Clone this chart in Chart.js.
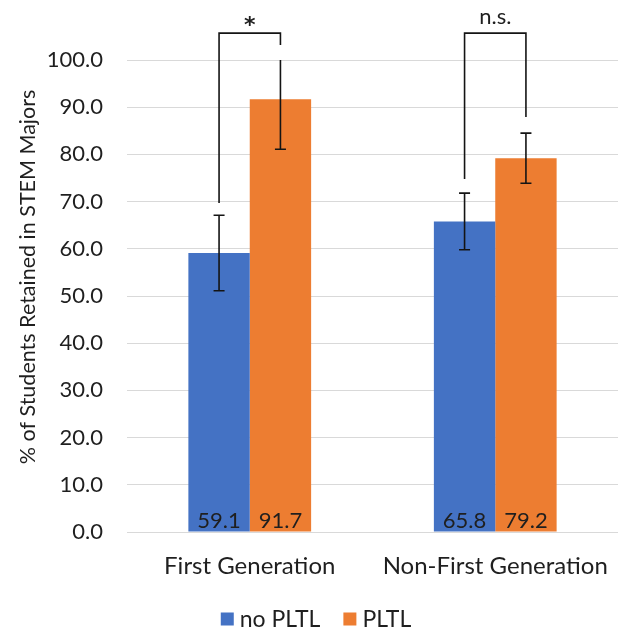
<!DOCTYPE html>
<html>
<head>
<meta charset="utf-8">
<script src="https://cdn.jsdelivr.net/npm/chart.js@4"></script>
<style>
    html, body { margin: 0; padding: 0; background: #fff; }
    #wrap { width: 618px; height: 633px; }
</style>
</head>
<body>
<div id="wrap"><canvas id="chart"></canvas></div>
<script>
const categories = ['First Generation', 'Non-First Generation'];
const seriesNames = ['no PLTL', 'PLTL'];
const noPltl = [59.1, 65.8];
const pltl = [91.7, 79.2];
const noPltlErr = [8.0, 6.0];
const pltlErr = [10.6, 5.3];
// significance brackets (value units)
const sigLabels = ['*', 'n.s.'];
const bracketTop = [105.7, 105.7];
const bracketLeftEnd = [69.7, 74.8];
const bracketRightEnd = [103.2, 87.9];
const yTitle = '% of Students Retained in STEM Majors';

const FONT = 'Lato, "Open Sans", sans-serif';
const TEXT = '#1f1f1f';
const errors = [noPltlErr, pltlErr];

const extrasPlugin = {
    id: 'extras',
    afterDatasetsDraw(chart) {
        const ctx = chart.ctx;
        const y = chart.scales.y;
        const area = chart.chartArea;
        ctx.save();
        // error bars
        ctx.strokeStyle = '#141414';
        ctx.lineWidth = 1.6;
        chart.data.datasets.forEach((ds, di) => {
            chart.getDatasetMeta(di).data.forEach((bar, i) => {
                const v = ds.data[i];
                const e = errors[di][i];
                const yTop = y.getPixelForValue(Math.min(v + e, y.max));
                const yBot = y.getPixelForValue(v - e);
                ctx.beginPath();
                ctx.moveTo(bar.x, yTop);
                ctx.lineTo(bar.x, yBot);
                ctx.moveTo(bar.x - 5.5, yBot);
                ctx.lineTo(bar.x + 5.5, yBot);
                if (v + e <= y.max) {
                    ctx.moveTo(bar.x - 5.5, yTop);
                    ctx.lineTo(bar.x + 5.5, yTop);
                }
                ctx.stroke();
            });
        });
        // value labels at the bottom of the bars
        ctx.fillStyle = TEXT;
        ctx.font = '22px ' + FONT;
        ctx.textAlign = 'center';
        ctx.textBaseline = 'middle';
        chart.data.datasets.forEach((ds, di) => {
            chart.getDatasetMeta(di).data.forEach((bar, i) => {
                ctx.fillText(ds.data[i].toFixed(1), bar.x, area.bottom - 11);
            });
        });
        // significance brackets
        const m0 = chart.getDatasetMeta(0).data;
        const m1 = chart.getDatasetMeta(1).data;
        ctx.textBaseline = 'alphabetic';
        categories.forEach((c, i) => {
            const xl = m0[i].x, xr = m1[i].x;
            const yt = y.getPixelForValue(bracketTop[i]);
            ctx.beginPath();
            ctx.moveTo(xl, y.getPixelForValue(bracketLeftEnd[i]));
            ctx.lineTo(xl, yt);
            ctx.lineTo(xr, yt);
            ctx.lineTo(xr, y.getPixelForValue(bracketRightEnd[i]));
            ctx.stroke();
            if (sigLabels[i] === '*') {
                ctx.font = 'bold 22px "DejaVu Sans", sans-serif';
                ctx.fillText(sigLabels[i], (xl + xr) / 2, yt - 1);
            } else {
                ctx.font = '22px ' + FONT;
                ctx.fillText(sigLabels[i], (xl + xr) / 2, yt - 9);
            }
        });
        // y axis title
        ctx.save();
        ctx.translate(28, 277);
        ctx.rotate(-Math.PI / 2);
        ctx.font = '21.5px ' + FONT;
        ctx.textAlign = 'center';
        ctx.textBaseline = 'middle';
        ctx.fillText(yTitle, 0, 0);
        ctx.restore();
        // legend
        ctx.font = '23px ' + FONT;
        ctx.textAlign = 'left';
        ctx.textBaseline = 'middle';
        const ly = 619, box = 13, gap = 6, itemGap = 23;
        const widths = seriesNames.map(n => box + gap + ctx.measureText(n).width);
        const total = widths.reduce((a, b) => a + b, 0) + itemGap;
        let lx = 316 - total / 2;
        chart.data.datasets.forEach((ds, di) => {
            ctx.fillStyle = ds.backgroundColor;
            ctx.fillRect(lx, ly - box / 2, box, box);
            ctx.fillStyle = TEXT;
            ctx.fillText(seriesNames[di], lx + box + gap, ly + 1);
            lx += widths[di] + itemGap;
        });
        ctx.restore();
    }
};

new Chart(document.getElementById('chart'), {
    type: 'bar',
    data: {
        labels: categories,
        datasets: [
            { label: seriesNames[0], data: noPltl, backgroundColor: '#4472C4' },
            { label: seriesNames[1], data: pltl, backgroundColor: '#ED7D31' }
        ]
    },
    options: {
        responsive: true,
        maintainAspectRatio: false,
        animation: false,
        layout: { padding: { top: 60, right: 0, bottom: 27, left: 0 } },
        datasets: { bar: { categoryPercentage: 0.5, barPercentage: 1 } },
        plugins: {
            legend: { display: false },
            tooltip: { enabled: false }
        },
        scales: {
            x: {
                grid: { display: true, drawOnChartArea: false, drawTicks: true, tickLength: 18, color: 'rgba(0,0,0,0)' },
                border: { display: false },
                ticks: { color: TEXT, font: { family: FONT, size: 24 }, padding: 2 },
                afterFit: (s) => { s.height = 74; }
            },
            y: {
                min: 0,
                max: 100,
                grid: { color: '#d9d9d9', drawTicks: false },
                border: { display: false },
                ticks: {
                    stepSize: 10,
                    padding: 24,
                    color: TEXT,
                    font: { family: FONT, size: 22 },
                    callback: (v) => v.toFixed(1)
                },
                afterFit: (s) => { s.width = 127; }
            }
        }
    },
    plugins: [extrasPlugin]
});
</script>
</body>
</html>
